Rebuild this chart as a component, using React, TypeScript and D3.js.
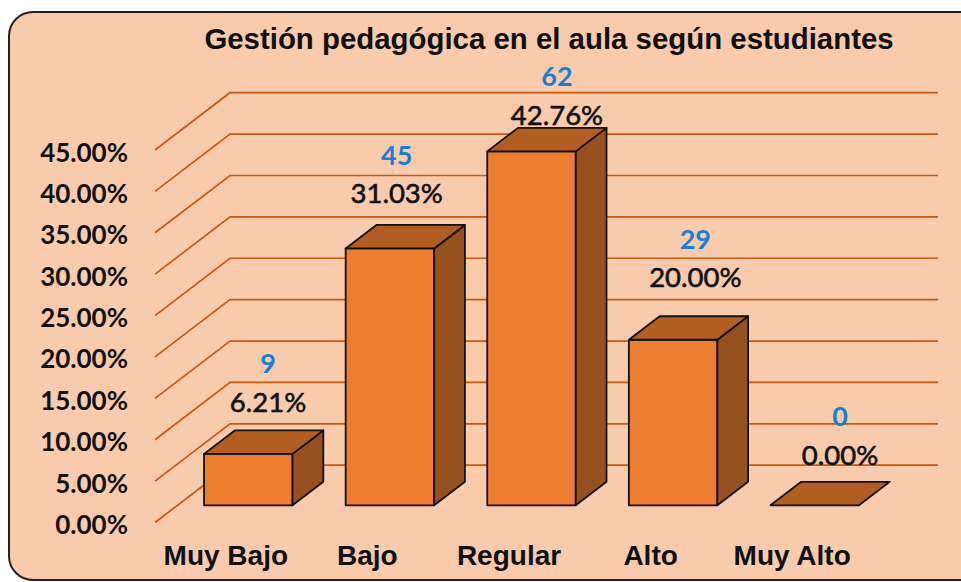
import React from "react";
import * as d3 from "d3";

const categories = ["Muy Bajo", "Bajo", "Regular", "Alto", "Muy Alto"];
const percentages = [6.21, 31.03, 42.76, 20.0, 0.0];
const counts = [9, 45, 62, 29, 0];
const yTicks = [0, 5, 10, 15, 20, 25, 30, 35, 40, 45];
const title = "Gestión pedagógica en el aula según estudiantes";

// layout (label nudges, px)
const labelNudgeX = [-3.8, -16.7, 2, -1.3, 1.8];
const labelNudgeY = [1.3, -1.6, 17.2, -8.9, 3.2];

const W = 961;
const H = 582;
const DX = 75;
const DY = -57.3;
const Z0 = 0.3;
const Z1 = 0.71;

const BG = "#F8CBAD";
const GRID = "#C55A11";
const FRONT = "#ED7D31";
const TOP = "#B25E22";
const SIDE = "#97501F";
const BLUE = "#1A7FD1";

export default function App() {
  const x = d3.scaleLinear().domain([0, categories.length]).range([155, 863]);
  const y = d3.scaleLinear().domain([0, 45]).range([522.5, 150]);
  const P = (cx: number, v: number, z: number): [number, number] => [
    x(cx) + z * DX,
    y(v) + z * DY,
  ];
  const poly = (pts: [number, number][]) =>
    pts.map((p) => p[0].toFixed(2) + "," + p[1].toFixed(2)).join(" ");
  const line = d3.line();

  const barW = 0.625;

  return (
    <svg
      width={W}
      height={H}
      style={{ position: "absolute", left: 0, top: 0 }}
    >
      <rect x={9} y={12} width={975} height={568} rx={24} fill={BG} stroke="#222" strokeWidth={2} />
      <text
        x={549}
        y={49}
        textAnchor="middle"
        fontFamily="Liberation Sans, Arial, sans-serif"
        fontWeight="bold"
        fontSize={29.4}
        fill="#111"
      >
        {title}
      </text>
      {yTicks.map((t) => (
        <g key={"g" + t}>
          <path
            d={line([P(0, t, 0), P(0, t, 1), P(categories.length, t, 1)]) || ""}
            fill="none"
            stroke={GRID}
            strokeWidth={1.7}
          />
          <text
            x={128}
            y={y(t) + 11.5}
            textAnchor="end"
            fontFamily="Lato, sans-serif"
            fontWeight="bold"
            fontSize={26}
            fill="#111"
          >
            {t.toFixed(2) + "%"}
          </text>
        </g>
      ))}
      {percentages.map((v, i) => {
        const x0 = i + (1 - barW) / 2;
        const x1 = i + (1 + barW) / 2;
        const stroke = { stroke: "#111", strokeWidth: 1.8, strokeLinejoin: "round" as const };
        const top = poly([P(x0, v, Z0), P(x1, v, Z0), P(x1, v, Z1), P(x0, v, Z1)]);
        return (
          <g key={"b" + i}>
            {v > 0 && (
              <>
                <polygon
                  points={poly([P(x0, 0, Z0), P(x1, 0, Z0), P(x1, v, Z0), P(x0, v, Z0)])}
                  fill={FRONT}
                  {...stroke}
                />
                <polygon
                  points={poly([P(x1, 0, Z0), P(x1, 0, Z1), P(x1, v, Z1), P(x1, v, Z0)])}
                  fill={SIDE}
                  {...stroke}
                />
              </>
            )}
            <polygon points={top} fill={TOP} {...stroke} />
          </g>
        );
      })}
      {percentages.map((v, i) => {
        const lx = x(i + 0.5) + 46 + labelNudgeX[i];
        const ly = P(0, v, Z1)[1] - 20 + labelNudgeY[i];
        return (
          <g key={"l" + i}>
            <text
              x={lx}
              y={ly}
              textAnchor="middle"
              fontFamily="Lato, sans-serif"
              fontSize={27.5}
              fill="#111"
              stroke="#111"
              strokeWidth={0.6}
            >
              {v.toFixed(2) + "%"}
            </text>
            <text
              x={lx}
              y={ly - 38.8}
              textAnchor="middle"
              fontFamily="Lato, sans-serif"
              fontWeight="bold"
              fontSize={27}
              fill={BLUE}
            >
              {counts[i]}
            </text>
          </g>
        );
      })}
      {categories.map((c, i) => (
        <text
          key={"c" + i}
          x={x(i + 0.5)}
          y={565}
          textAnchor="middle"
          fontFamily="Liberation Sans, Arial, sans-serif"
          fontWeight="bold"
          fontSize={28}
          fill="#111"
        >
          {c}
        </text>
      ))}
    </svg>
  );
}
